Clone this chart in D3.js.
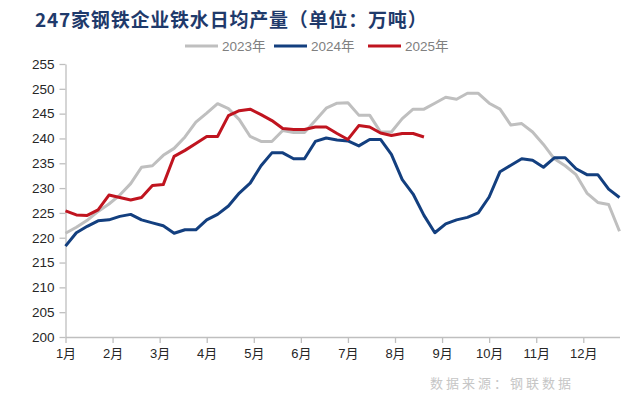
<!DOCTYPE html>
<html>
<head>
<meta charset="utf-8">
<script src="https://cdn.jsdelivr.net/npm/d3@7"></script>
<style>
    body { margin: 0; background: #fff; }
    svg { display: block; font-family: "Liberation Sans", Arial, "Noto Sans CJK SC", sans-serif; }
</style>
</head>
<body>
<svg id="chart"></svg>
<script>
// weekly data (万吨)
const months = ['1月','2月','3月','4月','5月','6月','7月','8月','9月','10月','11月','12月'];
const yTicks = [200,205,210,215,220,225,230,235,240,245,250,255];

const years = ['2023年','2024年','2025年'];
const colors = ['#bfbfbf','#133f7f','#c0141f'];

const v2023 = [220.9,222.1,223.5,225.3,226.8,228.6,230.9,234.2,234.5,236.6,
    238.0,240.3,243.3,245.1,247.0,246.0,243.8,240.4,239.4,239.4,
    241.6,241.2,241.2,243.6,246.1,247.1,247.2,244.7,244.7,241.3,
    241.3,244.0,245.9,245.9,247.1,248.3,247.9,249.1,249.1,247.1,
    245.9,242.7,243.0,241.3,238.8,235.9,234.5,232.7,229.0,227.1,
    226.7,221.3];
const v2024 = [218.3,221.0,222.3,223.4,223.6,224.3,224.7,223.6,223.0,222.4,
    220.9,221.6,221.6,223.6,224.7,226.4,229.0,231.0,234.5,237.1,
    237.1,235.9,235.9,239.4,240.1,239.7,239.5,238.5,239.8,239.8,
    236.8,231.7,228.8,224.5,221.0,222.8,223.6,224.1,225.0,228.2,
    233.3,234.6,235.9,235.6,234.2,236.1,236.1,233.9,232.7,232.7,
    229.8,228.1];
const v2025 = [225.4,224.6,224.5,225.6,228.6,228.1,227.6,228.1,230.5,230.7,
    236.4,237.6,239.0,240.4,240.4,244.6,245.6,245.9,244.8,243.6,
    242.0,241.8,241.8,242.3,242.3,241.0,239.8,242.6,242.3,241.1,
    240.6,241.0,241.0,240.3];

const series = [v2023, v2024, v2025];

const width = 640, height = 398;
const margin = { top: 64, right: 20.5, bottom: 61, left: 65.5 };

const svg = d3.select('#chart')
    .attr('width', width)
    .attr('height', height);

// scales
const xScale = d3.scaleLinear()
    .domain([0, 51])
    .range([margin.left, width - margin.right]);

const yScale = d3.scaleLinear()
    .domain([200, 255])
    .range([height - margin.bottom, margin.top]);

// title
svg.append('text')
    .attr('x', 35)
    .attr('y', 27)
    .attr('fill', '#1f3a6b')
    .attr('font-family', '"Noto Sans CJK SC", sans-serif')
    .attr('font-weight', 'bold')
    .attr('font-size', 19)
    .attr('letter-spacing', 0.8)
    .text('247家钢铁企业铁水日均产量（单位：万吨）');

// legend
const legendX = [185, 274, 368];
years.forEach((y, i) => {
    const g = svg.append('g').attr('transform', `translate(${legendX[i]},46)`);
    g.append('line')
        .attr('x1', 0).attr('x2', 33)
        .attr('stroke', colors[i])
        .attr('stroke-width', 3);
    g.append('text')
        .attr('x', 37)
        .attr('y', 5)
        .attr('fill', '#808080')
        .attr('font-size', 13.5)
        .text(y);
});

// y axis
const yAxis = d3.axisLeft(yScale)
    .tickValues(yTicks)
    .tickSize(6)
    .tickSizeOuter(0)
    .tickPadding(5);

const yAxisG = svg.append('g')
    .attr('transform', `translate(${margin.left},0)`)
    .call(yAxis);

// x axis, ticks at month starts (52 weeks / 12)
const xAxis = d3.axisBottom(xScale)
    .tickValues(months.map((d, i) => i * 52 / 12))
    .tickFormat((d, i) => months[i])
    .tickSize(6)
    .tickSizeOuter(0)
    .tickPadding(6);

const xAxisG = svg.append('g')
    .attr('transform', `translate(0,${height - margin.bottom})`)
    .call(xAxis);

[yAxisG, xAxisG].forEach(g => {
    g.select('.domain').attr('stroke', '#bfbfbf').attr('stroke-width', 1.3);
    g.selectAll('.tick line').attr('stroke', '#bfbfbf').attr('stroke-width', 1.3);
    g.selectAll('.tick text')
        .attr('fill', '#262626')
        .attr('font-size', 13.5)
        .attr('font-family', '"Liberation Sans", "Noto Sans CJK SC", sans-serif');
});
xAxisG.selectAll('.tick text').attr('font-size', 13);

// lines
const line = d3.line()
    .x((d, i) => xScale(i))
    .y(d => yScale(d));

series.forEach((s, i) => {
    svg.append('path')
        .datum(s)
        .attr('fill', 'none')
        .attr('stroke', colors[i])
        .attr('stroke-width', 3)
        .attr('stroke-linejoin', 'round')
        .attr('d', line);
});

// source note
svg.append('text')
    .attr('x', 430)
    .attr('y', 388)
    .attr('fill', '#c6c6c6')
    .attr('font-family', '"Noto Sans CJK SC", sans-serif')
    .attr('font-size', 13)
    .attr('letter-spacing', 3)
    .text('数据来源：钢联数据');
</script>
</body>
</html>
